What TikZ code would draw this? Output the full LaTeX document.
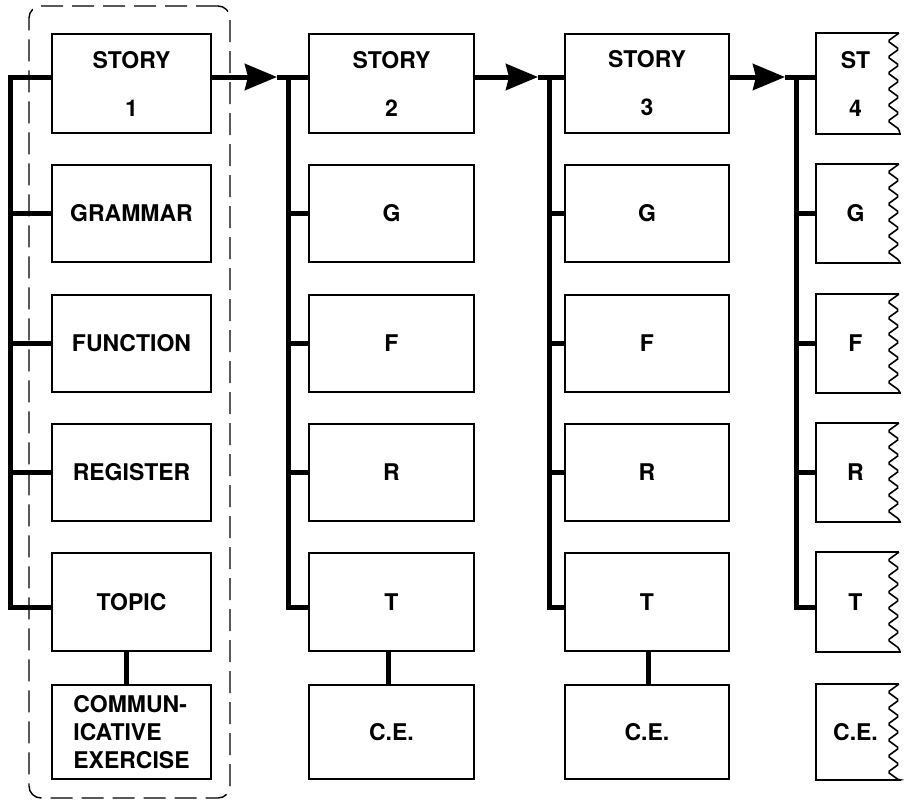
\documentclass[tikz,border=0pt]{standalone}
\usepackage{fontspec}
\setmainfont{TeX Gyre Heros}
\usetikzlibrary{arrows.meta}
\begin{document}
\begin{tikzpicture}[x=1pt,y=-1pt,
  box/.style={draw, line width=1.8pt, rectangle, inner sep=0pt,
    font=\fontsize{23}{28}\selectfont\bfseries, align=center},
  tornbox/.style={box, draw=none},
  bus/.style={line width=5pt, line join=miter},
  head/.style={-{Stealth[length=32pt,width=26pt,inset=3pt]}},
  edge/.style={line width=1.8pt},
  tear/.style={line width=1.6pt, rounded corners=1.5pt},
  frame/.style={draw, dash pattern=on 22pt off 9pt, line width=1.4pt,
    rounded corners=12pt, inner sep=0pt}]
\useasboundingbox (0,0) rectangle (907,801);

% ---- unit 1 (full labels) ----
\node[box, minimum width=159, minimum height=99] (s1) at (131.5,83.5) {STORY\\[20pt]1};
\node[box, minimum width=159, minimum height=97] (g1) at (131.5,213.5) {GRAMMAR};
\node[box, minimum width=159, minimum height=97] (f1) at (131.5,343.5) {FUNCTION};
\node[box, minimum width=159, minimum height=97] (r1) at (131.5,472.5) {REGISTER};
\node[box, minimum width=159, minimum height=98] (t1) at (131.5,602) {TOPIC};
\node[box, minimum width=159, minimum height=94, align=left] (c1) at (131.5,732)
  {COMMUN-\\ICATIVE\\EXERCISE};
\node[frame, minimum width=201, minimum height=792] (unit1) at (129.5,402) {};

% ---- units 2 and 3 (abbreviated labels) ----
\foreach \c/\x/\w in {2/391.5/165, 3/647/164}{
  \node[box, minimum width=\w, minimum height=99] (s\c) at (\x,83.5) {STORY\\[20pt]\c};
  \node[box, minimum width=\w, minimum height=97] (g\c) at (\x,213.5) {G};
  \node[box, minimum width=\w, minimum height=97] (f\c) at (\x,343.5) {F};
  \node[box, minimum width=\w, minimum height=97] (r\c) at (\x,472.5) {R};
  \node[box, minimum width=\w, minimum height=98] (t\c) at (\x,602) {T};
  \node[box, minimum width=\w, minimum height=94] (c\c) at (\x,732) {C.E.};
}

% ---- unit 4, cut off at the right edge ----
\node[tornbox, minimum width=77, minimum height=99] (s4) at (855.5,83.5) {ST\\[20pt]4};
\node[tornbox, minimum width=77, minimum height=97] (g4) at (855.5,213.5) {G};
\node[tornbox, minimum width=77, minimum height=97] (f4) at (855.5,343.5) {F};
\node[tornbox, minimum width=77, minimum height=97] (r4) at (855.5,472.5) {R};
\node[tornbox, minimum width=77, minimum height=98] (t4) at (855.5,602) {T};
\node[tornbox, minimum width=77, minimum height=94] (c4) at (855.5,732) {C.E.};
\foreach \n in {s4,g4,f4,r4,t4,c4}{
  \draw[edge] ([xshift=4pt]\n.north east) -- (\n.north west)
    -- (\n.south west) -- ([xshift=6pt]\n.south east);
  \draw[tear] ([xshift=4pt]\n.north east)
    \foreach \k in {1,...,6}{ -- ++(-11,8) -- ++(11,8) }
    -- ([xshift=5pt]\n.south east);
}

% ---- vertical buses of each unit ----
\coordinate (top1) at (10,77);   \coordinate (bot1) at (10,607);
\coordinate (top2) at (288,77);  \coordinate (bot2) at (288,607);
\coordinate (top3) at (549,77);  \coordinate (bot3) at (549,607);
\coordinate (top4) at (796,77);  \coordinate (bot4) at (796,607);
\coordinate (tip2) at (277,77);
\coordinate (tip3) at (538,77);
\coordinate (tip4) at (785,77);

\foreach \c in {1,2,3,4}{
  \draw[bus] ([yshift=6.5pt]s\c.west) -- (top\c) -- (bot\c) -- ([yshift=-5pt]t\c.west);
  \draw[bus] (top\c |- g\c.west) -- (g\c.west);
  \draw[bus] (top\c |- f\c.west) -- (f\c.west);
  \draw[bus] (top\c |- r\c.west) -- (r\c.west);
}

% ---- story-to-story arrows ----
\foreach \a/\b in {1/2, 2/3, 3/4}{
  \draw[bus, head] ([yshift=6.5pt]s\a.east) -- (tip\b);
  \draw[bus] (tip\b) -- (top\b);
}

% ---- topic to communicative exercise ----
\draw[bus] ([xshift=-5pt]t1.south) -- ([xshift=-5pt]c1.north);
\draw[bus] ([xshift=-3.5pt]t2.south) -- ([xshift=-3.5pt]c2.north);
\draw[bus] ([xshift=1pt]t3.south) -- ([xshift=1pt]c3.north);
\end{tikzpicture}
\end{document}
